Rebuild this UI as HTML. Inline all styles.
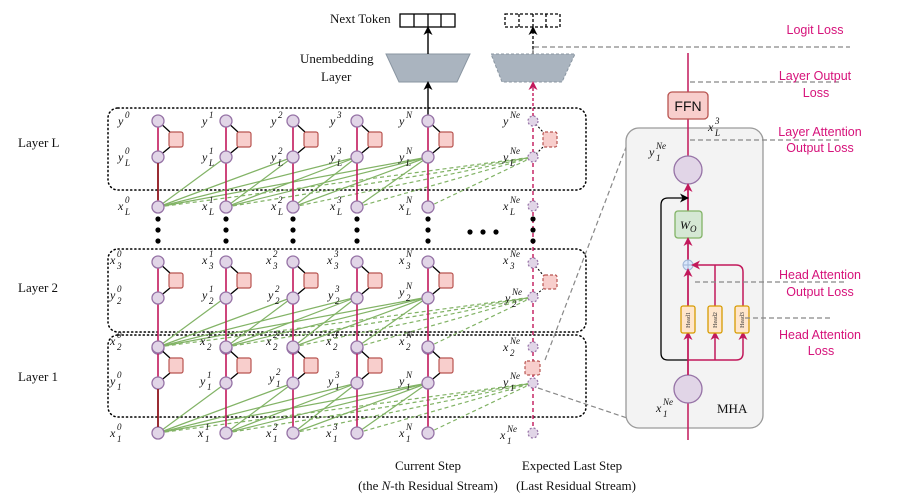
<!DOCTYPE html>
<html><head><meta charset="utf-8"><style>
body{margin:0;background:#fff}
svg{display:block}
.m{font-family:"Liberation Serif",serif;font-style:italic;font-size:12px;fill:#111}
.s{font-size:9px}
.t{font-family:"Liberation Serif",serif;font-size:13px;fill:#111}
.r{font-family:"Liberation Sans",sans-serif;font-size:12.5px;fill:#d6127a}
</style></head><body>
<svg width="897" height="498" viewBox="0 0 897 498" xmlns="http://www.w3.org/2000/svg">
<defs>
<marker id="ab" markerUnits="userSpaceOnUse" markerWidth="9" markerHeight="9" refX="7" refY="4.5" orient="auto"><path d="M0,0 L9,4.5 L0,9 L2.5,4.5z" fill="#000"/></marker>
<marker id="ar" markerUnits="userSpaceOnUse" markerWidth="9" markerHeight="9" refX="7" refY="4.5" orient="auto"><path d="M0,0 L9,4.5 L0,9 L2.5,4.5z" fill="#c2185b"/></marker>
<g id="green" stroke="#82b366" stroke-width="1.2" fill="none">
<line x1="158" y1="50" x2="226" y2="0"/><line x1="158" y1="50" x2="293" y2="0"/><line x1="158" y1="50" x2="357" y2="0"/><line x1="158" y1="50" x2="428" y2="0"/>
<line x1="226" y1="50" x2="293" y2="0"/><line x1="226" y1="50" x2="357" y2="0"/><line x1="226" y1="50" x2="428" y2="0"/>
<line x1="293" y1="50" x2="357" y2="0"/><line x1="293" y1="50" x2="428" y2="0"/>
<line x1="357" y1="50" x2="428" y2="0"/>
<g stroke-dasharray="4 3"><line x1="158" y1="50" x2="533" y2="0"/><line x1="226" y1="50" x2="533" y2="0"/><line x1="293" y1="50" x2="533" y2="0"/><line x1="357" y1="50" x2="533" y2="0"/><line x1="428" y1="50" x2="533" y2="0"/></g>
</g>
<g id="col">
<line x1="0" y1="0" x2="0" y2="86" stroke="#c2185b" stroke-width="1.6"/>
<line x1="0" y1="0" x2="12" y2="11" stroke="#000" stroke-width="1.3"/>
<line x1="0" y1="36" x2="12" y2="26" stroke="#000" stroke-width="1.3"/>
<rect x="11" y="11" width="14" height="15" rx="2" fill="#f8cecc" stroke="#b85450" stroke-width="1.2"/>
<circle cx="0" cy="0" r="6" fill="#e1d5e7" stroke="#9673a6" stroke-width="1.3"/>
<circle cx="0" cy="36" r="6" fill="#e1d5e7" stroke="#9673a6" stroke-width="1.3"/>
<circle cx="0" cy="86" r="6" fill="#e1d5e7" stroke="#9673a6" stroke-width="1.3"/>
</g>
<g id="dots" fill="#000"><circle cx="0" cy="219" r="2.6"/><circle cx="0" cy="230" r="2.6"/><circle cx="0" cy="241" r="2.6"/></g>
</defs>

<g fill="none" stroke="#000" stroke-width="1.5" stroke-dasharray="1.2 3" stroke-linecap="round">
<rect x="108" y="108" width="478" height="82" rx="10"/>
<rect x="108" y="249" width="478" height="83" rx="10"/>
<rect x="108" y="335" width="478" height="82" rx="10"/>
</g>

<text class="t" x="18" y="147">Layer L</text>
<text class="t" x="18" y="292">Layer 2</text>
<text class="t" x="18" y="381">Layer 1</text>

<text class="t" x="330" y="23">Next Token</text>
<text class="t" x="300" y="63">Unembedding</text>
<text class="t" x="321" y="81">Layer</text>
<g fill="none" stroke="#000" stroke-width="1.3">
<rect x="400" y="14" width="55" height="13"/><line x1="414" y1="14" x2="414" y2="27"/><line x1="428" y1="14" x2="428" y2="27"/><line x1="441" y1="14" x2="441" y2="27"/>
</g>
<g fill="none" stroke="#000" stroke-width="1.3" stroke-dasharray="3 2">
<rect x="505" y="14" width="55" height="13"/><line x1="519" y1="14" x2="519" y2="27"/><line x1="533" y1="14" x2="533" y2="27"/><line x1="546" y1="14" x2="546" y2="27"/>
</g>
<polygon points="386,54 470,54 457,82 399,82" fill="#aab4bf" stroke="#8a96a2" stroke-width="1"/>
<polygon points="491,54 575,54 562,82 502,82" fill="#aab4bf" stroke="#8a96a2" stroke-width="1" stroke-dasharray="3 2"/>
<line x1="428" y1="54" x2="428" y2="28" stroke="#000" stroke-width="1.4" marker-end="url(#ab)"/>
<line x1="428" y1="121" x2="428" y2="83" stroke="#000" stroke-width="1.4" marker-end="url(#ab)"/>
<line x1="533" y1="54" x2="533" y2="28" stroke="#000" stroke-width="1.3" stroke-dasharray="3 2" marker-end="url(#ab)"/>
<line x1="533" y1="121" x2="533" y2="83" stroke="#c2185b" stroke-width="1.4" stroke-dasharray="3 2" marker-end="url(#ar)"/>
<polyline points="533,54 533,47 850,47" fill="none" stroke="#888" stroke-width="1.2" stroke-dasharray="5 3"/>

<use href="#green" transform="translate(0,157)"/>
<use href="#green" transform="translate(0,297)"/>
<use href="#green" transform="translate(0,383)"/>

<g>
<use href="#col" transform="translate(158,121)"/><use href="#col" transform="translate(226,121)"/><use href="#col" transform="translate(293,121)"/><use href="#col" transform="translate(357,121)"/><use href="#col" transform="translate(428,121)"/>
<use href="#col" transform="translate(158,262)"/><use href="#col" transform="translate(226,262)"/><use href="#col" transform="translate(293,262)"/><use href="#col" transform="translate(357,262)"/><use href="#col" transform="translate(428,262)"/>
<use href="#col" transform="translate(158,347)"/><use href="#col" transform="translate(226,347)"/><use href="#col" transform="translate(293,347)"/><use href="#col" transform="translate(357,347)"/><use href="#col" transform="translate(428,347)"/>
</g>
<line x1="158" y1="163" x2="158" y2="200" stroke="#8b1a1a" stroke-width="1.6"/>
<line x1="158" y1="389" x2="158" y2="427" stroke="#8b1a1a" stroke-width="1.6"/>

<line x1="533" y1="121" x2="533" y2="433" stroke="#c2185b" stroke-width="1.4" stroke-dasharray="4 3"/>
<g fill="none" stroke="#000" stroke-width="1.1" stroke-dasharray="2 2">
<line x1="533" y1="121" x2="543" y2="132"/><line x1="533" y1="157" x2="543" y2="147"/>
<line x1="533" y1="263" x2="543" y2="275"/><line x1="533" y1="297" x2="543" y2="289"/>
</g>
<g fill="#f8cecc" stroke="#b85450" stroke-width="1.2" stroke-dasharray="3 2">
<rect x="543" y="132" width="14" height="15" rx="2"/>
<rect x="543" y="275" width="14" height="14" rx="2"/>
<rect x="525" y="361" width="15" height="14" rx="2"/>
</g>
<g fill="#e1d5e7" stroke="#9673a6" stroke-width="1.2" stroke-dasharray="2 2">
<circle cx="533" cy="121" r="5"/><circle cx="533" cy="157" r="5"/><circle cx="533" cy="206" r="5"/>
<circle cx="533" cy="263" r="5"/><circle cx="533" cy="297" r="5"/><circle cx="533" cy="347" r="5"/>
<circle cx="533" cy="383" r="5"/><circle cx="533" cy="433" r="5"/>
</g>

<use href="#dots" x="158"/><use href="#dots" x="226"/><use href="#dots" x="293"/><use href="#dots" x="357"/><use href="#dots" x="428"/><use href="#dots" x="533"/>
<g fill="#000"><circle cx="470" cy="232" r="2.6"/><circle cx="483" cy="232" r="2.6"/><circle cx="496" cy="232" r="2.6"/></g>

<g class="m">
<text x="118" y="125">y<tspan class="s" x="125" y="118">0</tspan></text>
<text x="202" y="125">y<tspan class="s" x="209" y="118">1</tspan></text>
<text x="271" y="125">y<tspan class="s" x="278" y="118">2</tspan></text>
<text x="330" y="125">y<tspan class="s" x="337" y="118">3</tspan></text>
<text x="399" y="125">y<tspan class="s" x="406" y="118">N</tspan></text>
<text x="503" y="125">y<tspan class="s" x="510" y="118">Ne</tspan></text>

<text x="118" y="161">y<tspan class="s" x="125" y="154">0</tspan><tspan class="s" x="125" y="166">L</tspan></text>
<text x="202" y="161">y<tspan class="s" x="209" y="154">1</tspan><tspan class="s" x="209" y="166">L</tspan></text>
<text x="271" y="161">y<tspan class="s" x="278" y="154">2</tspan><tspan class="s" x="278" y="166">L</tspan></text>
<text x="330" y="161">y<tspan class="s" x="337" y="154">3</tspan><tspan class="s" x="337" y="166">L</tspan></text>
<text x="399" y="161">y<tspan class="s" x="406" y="154">N</tspan><tspan class="s" x="406" y="166">L</tspan></text>
<text x="503" y="161">y<tspan class="s" x="510" y="154">Ne</tspan><tspan class="s" x="510" y="166">L</tspan></text>

<text x="118" y="210">x<tspan class="s" x="125" y="203">0</tspan><tspan class="s" x="125" y="215">L</tspan></text>
<text x="202" y="210">x<tspan class="s" x="209" y="203">1</tspan><tspan class="s" x="209" y="215">L</tspan></text>
<text x="271" y="210">x<tspan class="s" x="278" y="203">2</tspan><tspan class="s" x="278" y="215">L</tspan></text>
<text x="330" y="210">x<tspan class="s" x="337" y="203">3</tspan><tspan class="s" x="337" y="215">L</tspan></text>
<text x="399" y="210">x<tspan class="s" x="406" y="203">N</tspan><tspan class="s" x="406" y="215">L</tspan></text>
<text x="503" y="210">x<tspan class="s" x="510" y="203">Ne</tspan><tspan class="s" x="510" y="215">L</tspan></text>

<text x="110" y="264">x<tspan class="s" x="117" y="257">0</tspan><tspan class="s" x="117" y="269">3</tspan></text>
<text x="202" y="264">x<tspan class="s" x="209" y="257">1</tspan><tspan class="s" x="209" y="269">3</tspan></text>
<text x="266" y="264">x<tspan class="s" x="273" y="257">2</tspan><tspan class="s" x="273" y="269">3</tspan></text>
<text x="327" y="264">x<tspan class="s" x="334" y="257">3</tspan><tspan class="s" x="334" y="269">3</tspan></text>
<text x="399" y="264">x<tspan class="s" x="406" y="257">N</tspan><tspan class="s" x="406" y="269">3</tspan></text>
<text x="503" y="264">x<tspan class="s" x="510" y="257">Ne</tspan><tspan class="s" x="510" y="269">3</tspan></text>

<text x="110" y="299">y<tspan class="s" x="117" y="292">0</tspan><tspan class="s" x="117" y="304">2</tspan></text>
<text x="202" y="299">y<tspan class="s" x="209" y="292">1</tspan><tspan class="s" x="209" y="304">2</tspan></text>
<text x="268" y="299">y<tspan class="s" x="275" y="292">2</tspan><tspan class="s" x="275" y="304">2</tspan></text>
<text x="328" y="299">y<tspan class="s" x="335" y="292">3</tspan><tspan class="s" x="335" y="304">2</tspan></text>
<text x="399" y="296">y<tspan class="s" x="406" y="289">N</tspan><tspan class="s" x="406" y="301">2</tspan></text>
<text x="505" y="302">y<tspan class="s" x="512" y="295">Ne</tspan><tspan class="s" x="512" y="307">2</tspan></text>

<text x="110" y="345">x<tspan class="s" x="117" y="338">0</tspan><tspan class="s" x="117" y="350">2</tspan></text>
<text x="200" y="345">x<tspan class="s" x="207" y="338">1</tspan><tspan class="s" x="207" y="350">2</tspan></text>
<text x="266" y="345">x<tspan class="s" x="273" y="338">2</tspan><tspan class="s" x="273" y="350">2</tspan></text>
<text x="326" y="345">x<tspan class="s" x="333" y="338">3</tspan><tspan class="s" x="333" y="350">2</tspan></text>
<text x="399" y="345">x<tspan class="s" x="406" y="338">N</tspan><tspan class="s" x="406" y="350">2</tspan></text>
<text x="503" y="351">x<tspan class="s" x="510" y="344">Ne</tspan><tspan class="s" x="510" y="356">2</tspan></text>

<text x="110" y="385">y<tspan class="s" x="117" y="378">0</tspan><tspan class="s" x="117" y="390">1</tspan></text>
<text x="200" y="385">y<tspan class="s" x="207" y="378">1</tspan><tspan class="s" x="207" y="390">1</tspan></text>
<text x="269" y="382">y<tspan class="s" x="276" y="375">2</tspan><tspan class="s" x="276" y="387">1</tspan></text>
<text x="328" y="385">y<tspan class="s" x="335" y="378">3</tspan><tspan class="s" x="335" y="390">1</tspan></text>
<text x="399" y="385">y<tspan class="s" x="406" y="378">N</tspan><tspan class="s" x="406" y="390">1</tspan></text>
<text x="503" y="386">y<tspan class="s" x="510" y="379">Ne</tspan><tspan class="s" x="510" y="391">1</tspan></text>

<text x="110" y="437">x<tspan class="s" x="117" y="430">0</tspan><tspan class="s" x="117" y="442">1</tspan></text>
<text x="198" y="437">x<tspan class="s" x="205" y="430">1</tspan><tspan class="s" x="205" y="442">1</tspan></text>
<text x="266" y="437">x<tspan class="s" x="273" y="430">2</tspan><tspan class="s" x="273" y="442">1</tspan></text>
<text x="326" y="437">x<tspan class="s" x="333" y="430">3</tspan><tspan class="s" x="333" y="442">1</tspan></text>
<text x="399" y="437">x<tspan class="s" x="406" y="430">N</tspan><tspan class="s" x="406" y="442">1</tspan></text>
<text x="500" y="439">x<tspan class="s" x="507" y="432">Ne</tspan><tspan class="s" x="507" y="444">1</tspan></text>
</g>

<text class="t" x="428" y="470" text-anchor="middle" font-size="11.5">Current Step</text>
<text class="t" x="428" y="490" text-anchor="middle" font-size="11.5">(the <tspan font-style="italic">N</tspan>-th Residual Stream)</text>
<text class="t" x="572" y="470" text-anchor="middle" font-size="11.5">Expected Last Step</text>
<text class="t" x="576" y="490" text-anchor="middle" font-size="11.5">(Last Residual Stream)</text>

<g stroke="#888" stroke-width="1.2" stroke-dasharray="5 3" fill="none">
<line x1="545" y1="360" x2="628" y2="142"/>
<line x1="538" y1="388" x2="627" y2="418"/>
</g>

<rect x="626" y="128" width="137" height="300" rx="13" fill="#f3f3f3" stroke="#9a9a9a" stroke-width="1.3"/>
<line x1="688" y1="53" x2="688" y2="440" stroke="#c2185b" stroke-width="1.5"/>
<rect x="668" y="92" width="40" height="27" rx="4" fill="#f8cecc" stroke="#b85450" stroke-width="1.3"/>
<text x="688" y="111" text-anchor="middle" font-family="Liberation Sans,sans-serif" font-size="14" fill="#111">FFN</text>
<circle cx="688" cy="170" r="14" fill="#e1d5e7" stroke="#9673a6" stroke-width="1.3"/>
<circle cx="688" cy="389" r="14" fill="#e1d5e7" stroke="#9673a6" stroke-width="1.3"/>
<line x1="688" y1="211" x2="688" y2="185" stroke="#c2185b" stroke-width="1.5" marker-end="url(#ar)"/>
<path d="M688,360 L668,360 Q661,360 661,353 L661,205 Q661,198 668,198 L687,198" fill="none" stroke="#000" stroke-width="1.3" marker-end="url(#ab)"/>
<rect x="675" y="211" width="27" height="27" rx="3" fill="#d5e8d4" stroke="#82b366" stroke-width="1.3"/>
<text class="m" x="680" y="229" font-size="13">W<tspan class="s" dy="3">O</tspan></text>
<line x1="688" y1="260" x2="688" y2="239" stroke="#c2185b" stroke-width="1.5" marker-end="url(#ar)"/>
<circle cx="688" cy="265" r="5" fill="#dae8fc" stroke="#9fb5d6" stroke-width="1"/>
<line x1="683" y1="265" x2="693" y2="265" stroke="#9fb5d6"/><line x1="688" y1="260" x2="688" y2="270" stroke="#9fb5d6"/>
<path d="M743,306 L743,272 Q743,265 736,265 L693,265" fill="none" stroke="#c2185b" stroke-width="1.5" marker-end="url(#ar)"/>
<line x1="715" y1="306" x2="715" y2="265" stroke="#c2185b" stroke-width="1.5"/>
<line x1="688" y1="306" x2="688" y2="270" stroke="#c2185b" stroke-width="1.5" marker-end="url(#ar)"/>
<path d="M688,375 L688,360 L736,360 Q743,360 743,353 L743,333" fill="none" stroke="#c2185b" stroke-width="1.5" marker-end="url(#ar)"/>
<line x1="715" y1="360" x2="715" y2="333" stroke="#c2185b" stroke-width="1.5" marker-end="url(#ar)"/>
<line x1="688" y1="360" x2="688" y2="333" stroke="#c2185b" stroke-width="1.5" marker-end="url(#ar)"/>
<g fill="#ffe6cc" stroke="#d79b00" stroke-width="1.3">
<rect x="681" y="306" width="14" height="27" rx="2"/><rect x="708" y="306" width="14" height="27" rx="2"/><rect x="735" y="306" width="14" height="27" rx="2"/>
</g>
<g font-family="Liberation Serif,serif" font-size="6" fill="#333" text-anchor="middle">
<text transform="translate(690,320) rotate(-90)">Head1</text>
<text transform="translate(717,320) rotate(-90)">Head2</text>
<text transform="translate(744,320) rotate(-90)">Head3</text>
</g>
<text class="m" x="708" y="131">x<tspan class="s" x="715" y="124">3</tspan><tspan class="s" x="715" y="136">L</tspan></text>
<text class="m" x="649" y="156">y<tspan class="s" x="656" y="149">Ne</tspan><tspan class="s" x="656" y="161">1</tspan></text>
<text class="m" x="656" y="412">x<tspan class="s" x="663" y="405">Ne</tspan><tspan class="s" x="663" y="417">1</tspan></text>
<text class="t" x="717" y="413">MHA</text>

<g stroke="#888" stroke-width="1.2" stroke-dasharray="5 3" fill="none">
<line x1="690" y1="82" x2="840" y2="82"/>
<line x1="690" y1="140" x2="840" y2="140"/>
<line x1="695" y1="282" x2="845" y2="282"/>
<line x1="745" y1="318" x2="832" y2="318"/>
</g>
<g class="r" text-anchor="middle">
<text x="815" y="34">Logit Loss</text>
<text x="815" y="80">Layer Output</text><text x="816" y="97">Loss</text>
<text x="820" y="136">Layer Attention</text><text x="820" y="152">Output Loss</text>
<text x="820" y="279">Head Attention</text><text x="820" y="296">Output Loss</text>
<text x="820" y="339">Head Attention</text><text x="821" y="355">Loss</text>
</g>
</svg>
</body></html>
